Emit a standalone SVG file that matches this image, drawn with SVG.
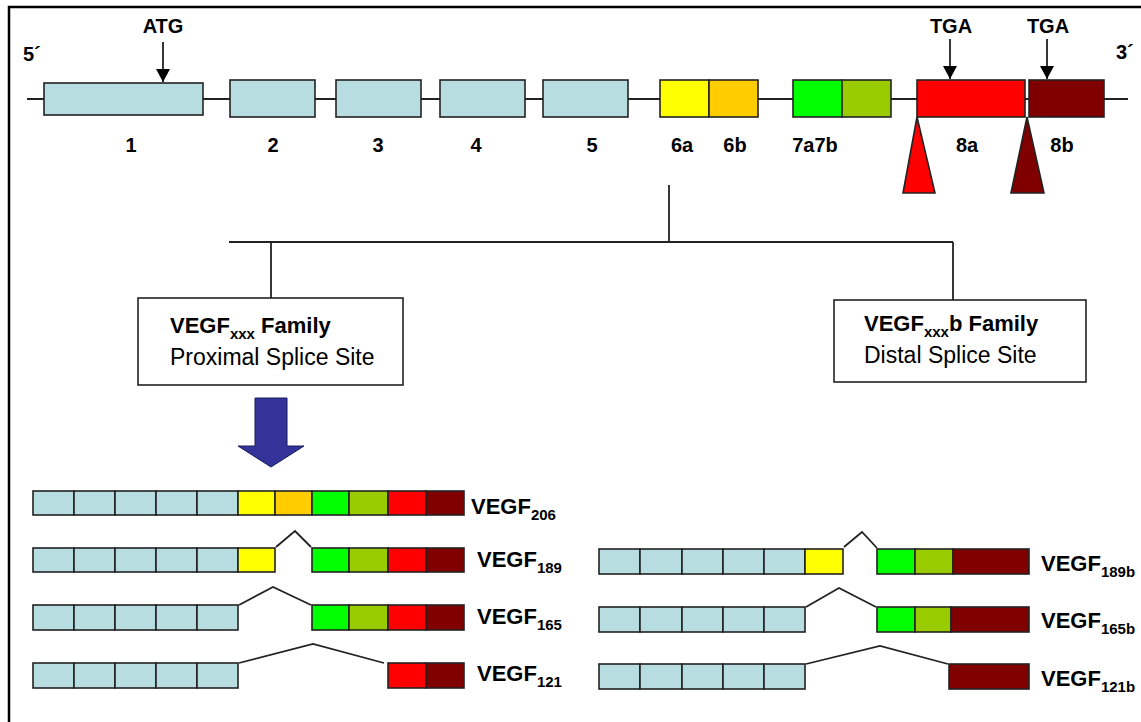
<svg xmlns="http://www.w3.org/2000/svg" width="1141" height="722" viewBox="0 0 1141 722">
<defs>
<style>
text{font-family:"Liberation Sans",Arial,sans-serif;fill:#000}
.lbl{font-size:20px;font-weight:bold}
.num{font-size:20px;font-weight:bold;text-anchor:middle}
.vg{font-size:22px;font-weight:bold}
.bx{font-size:23px}
.sub{font-size:15px}
.box{fill:#fff;stroke:#222;stroke-width:1.6}
.ex rect,.ex polygon{stroke:#222;stroke-width:1.6}
.b{fill:#b8dde1}
.y{fill:#ffff00}
.o{fill:#ffcc00}
.g{fill:#00ff00}
.yg{fill:#99cc00}
.r{fill:#ff0000}
.dr{fill:#800000}
.ln{fill:none;stroke:#222;stroke-width:1.8}
</style>
<marker id="ah" markerUnits="userSpaceOnUse" markerWidth="16" markerHeight="14" refX="13" refY="7" orient="auto">
<polygon points="0,0 13,7 0,14" fill="#000"/>
</marker>
</defs>
<rect width="1141" height="722" fill="#fff"/>
<path d="M9,722 V7 H1141" fill="none" stroke="#000" stroke-width="2.5"/>

<g id="gene">
<line x1="27" y1="99" x2="1128" y2="99" class="ln"/>
<g class="ex">
<rect id="ex1" x="44" y="83" width="159" height="32" class="b"/>
<rect id="ex2" x="230" y="80" width="85" height="37" class="b"/>
<rect id="ex3" x="336" y="80" width="85" height="37" class="b"/>
<rect id="ex4" x="440" y="80" width="85" height="37" class="b"/>
<rect id="ex5" x="543" y="80" width="85" height="37" class="b"/>
<rect id="ex6a" x="660" y="80" width="49" height="37" class="y"/>
<rect id="ex6b" x="709" y="80" width="49" height="37" class="o"/>
<rect id="ex7a" x="793" y="80" width="49" height="37" class="g"/>
<rect id="ex7b" x="842" y="80" width="49" height="37" class="yg"/>
<rect id="ex8a" x="917" y="80" width="108" height="37" class="r"/>
<rect id="ex8b" x="1029" y="80" width="75" height="37" class="dr"/>
<polygon id="tri8a" points="917,117 935,193 903,193" class="r"/>
<polygon id="tri8b" points="1027,117 1044,193 1011,193" class="dr"/>
</g>
<text x="23" y="61" class="lbl">5´</text>
<text x="1116" y="59" class="lbl">3´</text>
<text x="163" y="33" class="lbl" text-anchor="middle">ATG</text>
<text x="951" y="33" class="lbl" text-anchor="middle">TGA</text>
<text x="1048" y="33" class="lbl" text-anchor="middle">TGA</text>
<line x1="163" y1="42" x2="163" y2="82" class="ln" marker-end="url(#ah)"/>
<line x1="950" y1="39" x2="950" y2="79" class="ln" marker-end="url(#ah)"/>
<line x1="1047" y1="39" x2="1047" y2="79" class="ln" marker-end="url(#ah)"/>
<text x="131" y="152" class="num">1</text>
<text x="273" y="152" class="num">2</text>
<text x="378" y="152" class="num">3</text>
<text x="476" y="152" class="num">4</text>
<text x="592" y="152" class="num">5</text>
<text x="682" y="152" class="num">6a</text>
<text x="735" y="152" class="num">6b</text>
<text x="815" y="152" class="num">7a7b</text>
<text x="967" y="152" class="num">8a</text>
<text x="1062" y="152" class="num">8b</text>
</g>

<g id="connectors">
<line x1="669" y1="185" x2="669" y2="242" class="ln"/>
<line x1="229" y1="242" x2="953" y2="242" class="ln"/>
<line x1="271" y1="242" x2="271" y2="298" class="ln"/>
<line x1="953" y1="242" x2="953" y2="300" class="ln"/>
</g>

<g id="proximal">
<rect x="138" y="298" width="265" height="87" class="box"/>
<text x="170" y="333" class="vg">VEGF<tspan class="sub" dy="6">xxx</tspan><tspan dy="-6"> Family</tspan></text>
<text x="170" y="365" class="bx">Proximal Splice Site</text>
</g>

<g id="distal">
<rect x="834" y="300" width="252" height="82" class="box"/>
<text x="864" y="331" class="vg">VEGF<tspan class="sub" dy="6">xxx</tspan><tspan dy="-6">b Family</tspan></text>
<text x="864" y="363" class="bx">Distal Splice Site</text>
</g>

<g id="bigarrow">
<polygon points="255,398 287,398 287,446 304,446 271,467 238,446 255,446" fill="#333399" stroke="#1a1a5e" stroke-width="1"/>
</g>

<g id="vegf206" class="ex">
<rect x="33" y="491" width="41" height="24" class="b"/>
<rect x="74" y="491" width="41" height="24" class="b"/>
<rect x="115" y="491" width="41" height="24" class="b"/>
<rect x="156" y="491" width="41" height="24" class="b"/>
<rect x="197" y="491" width="41" height="24" class="b"/>
<rect x="238" y="491" width="37" height="24" class="y"/>
<rect x="275" y="491" width="37" height="24" class="o"/>
<rect x="312" y="491" width="37" height="24" class="g"/>
<rect x="349" y="491" width="39" height="24" class="yg"/>
<rect x="388" y="491" width="38" height="24" class="r"/>
<rect x="426" y="491" width="38" height="24" class="dr"/>
<text x="471" y="514" class="vg">VEGF<tspan class="sub" dy="6">206</tspan></text>
</g>

<g id="vegf189" class="ex">
<rect x="33" y="548" width="41" height="24" class="b"/>
<rect x="74" y="548" width="41" height="24" class="b"/>
<rect x="115" y="548" width="41" height="24" class="b"/>
<rect x="156" y="548" width="41" height="24" class="b"/>
<rect x="197" y="548" width="41" height="24" class="b"/>
<rect x="238" y="548" width="37" height="24" class="y"/>
<rect x="312" y="548" width="37" height="24" class="g"/>
<rect x="349" y="548" width="39" height="24" class="yg"/>
<rect x="388" y="548" width="38" height="24" class="r"/>
<rect x="426" y="548" width="38" height="24" class="dr"/>
<polyline points="276,547 295,531 311,547" class="ln"/>
<text x="477" y="567" class="vg">VEGF<tspan class="sub" dy="6">189</tspan></text>
</g>

<g id="vegf165" class="ex">
<rect x="33" y="605" width="41" height="25" class="b"/>
<rect x="74" y="605" width="41" height="25" class="b"/>
<rect x="115" y="605" width="41" height="25" class="b"/>
<rect x="156" y="605" width="41" height="25" class="b"/>
<rect x="197" y="605" width="41" height="25" class="b"/>
<rect x="312" y="605" width="37" height="25" class="g"/>
<rect x="349" y="605" width="39" height="25" class="yg"/>
<rect x="388" y="605" width="38" height="25" class="r"/>
<rect x="426" y="605" width="38" height="25" class="dr"/>
<polyline points="239,605 273,587 311,605" class="ln"/>
<text x="477" y="624" class="vg">VEGF<tspan class="sub" dy="6">165</tspan></text>
</g>

<g id="vegf121" class="ex">
<rect x="33" y="663" width="41" height="25" class="b"/>
<rect x="74" y="663" width="41" height="25" class="b"/>
<rect x="115" y="663" width="41" height="25" class="b"/>
<rect x="156" y="663" width="41" height="25" class="b"/>
<rect x="197" y="663" width="41" height="25" class="b"/>
<rect x="388" y="663" width="38" height="25" class="r"/>
<rect x="426" y="663" width="38" height="25" class="dr"/>
<polyline points="239,663 313,644 384,663" class="ln"/>
<text x="477" y="681" class="vg">VEGF<tspan class="sub" dy="6">121</tspan></text>
</g>

<g id="vegf189b" class="ex">
<rect x="599" y="549" width="41" height="25" class="b"/>
<rect x="640" y="549" width="42" height="25" class="b"/>
<rect x="682" y="549" width="41" height="25" class="b"/>
<rect x="723" y="549" width="41" height="25" class="b"/>
<rect x="764" y="549" width="41" height="25" class="b"/>
<rect x="805" y="549" width="38" height="25" class="y"/>
<rect x="877" y="549" width="38" height="25" class="g"/>
<rect x="915" y="549" width="38" height="25" class="yg"/>
<rect x="953" y="549" width="76" height="25" class="dr"/>
<polyline points="844,547 862,532 877,548" class="ln"/>
<text x="1041" y="571" class="vg">VEGF<tspan class="sub" dy="6">189b</tspan></text>
</g>

<g id="vegf165b" class="ex">
<rect x="599" y="607" width="41" height="25" class="b"/>
<rect x="640" y="607" width="42" height="25" class="b"/>
<rect x="682" y="607" width="41" height="25" class="b"/>
<rect x="723" y="607" width="41" height="25" class="b"/>
<rect x="764" y="607" width="41" height="25" class="b"/>
<rect x="877" y="607" width="38" height="25" class="g"/>
<rect x="915" y="607" width="36" height="25" class="yg"/>
<rect x="951" y="607" width="78" height="25" class="dr"/>
<polyline points="806,607 839,588 876,607" class="ln"/>
<text x="1041" y="628" class="vg">VEGF<tspan class="sub" dy="6">165b</tspan></text>
</g>

<g id="vegf121b" class="ex">
<rect x="599" y="664" width="41" height="25" class="b"/>
<rect x="640" y="664" width="42" height="25" class="b"/>
<rect x="682" y="664" width="41" height="25" class="b"/>
<rect x="723" y="664" width="41" height="25" class="b"/>
<rect x="764" y="664" width="41" height="25" class="b"/>
<rect x="949" y="664" width="80" height="25" class="dr"/>
<polyline points="806,664 880,646 948,664" class="ln"/>
<text x="1041" y="686" class="vg">VEGF<tspan class="sub" dy="6">121b</tspan></text>
</g>
</svg>
